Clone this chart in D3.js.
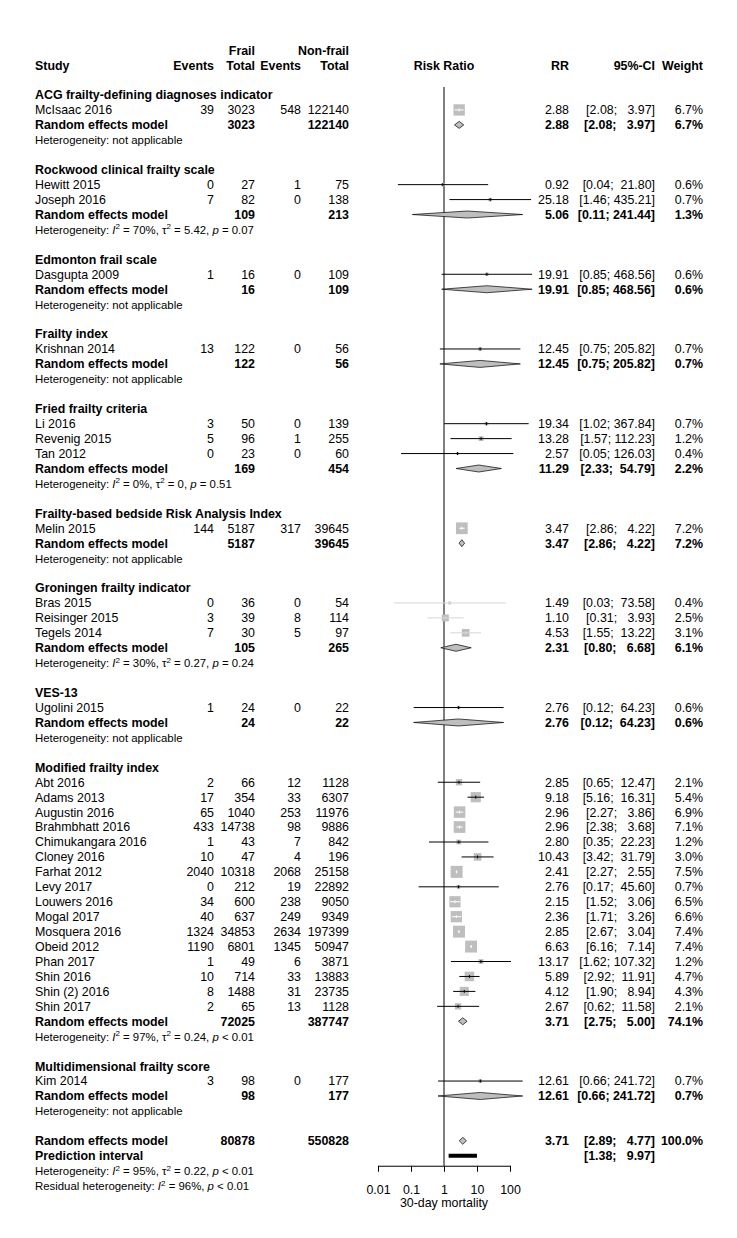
<!DOCTYPE html>
<html>
<head>
<meta charset="utf-8">
<script src="https://cdn.jsdelivr.net/npm/d3@7"></script>
<style>
  body { margin: 0; background: #fff; }
  text { font-family: "Liberation Sans", Arial, sans-serif; font-size: 12.4px; fill: #000; white-space: pre; }
  .b { font-weight: bold; }
  .het { font-size: 11.4px; }
</style>
</head>
<body>
<div id="chart"></div>
<script>
// subgroups (frailty instruments)
const groupNames = [
  "ACG frailty-defining diagnoses indicator",
  "Rockwood clinical frailty scale",
  "Edmonton frail scale",
  "Frailty index",
  "Fried frailty criteria",
  "Frailty-based bedside Risk Analysis Index",
  "Groningen frailty indicator",
  "VES-13",
  "Modified frailty index",
  "Multidimensional frailty score"
];
const groupTotFrail = [3023, 109, 16, 122, 169, 5187, 105, 24, 72025, 98];
const groupTotNon   = [122140, 213, 109, 56, 454, 39645, 265, 22, 387747, 177];
const groupRR     = [2.88, 5.06, 19.91, 12.45, 11.29, 3.47, 2.31, 2.76, 3.71, 12.61];
const groupLo     = [2.08, 0.11, 0.85, 0.75, 2.33, 2.86, 0.80, 0.12, 2.75, 0.66];
const groupHi     = [3.97, 241.44, 468.56, 205.82, 54.79, 4.22, 6.68, 64.23, 5.00, 241.72];
const groupWeight = [6.7, 1.3, 0.6, 0.7, 2.2, 7.2, 6.1, 0.6, 74.1, 0.7];
const groupI2   = [null, 70, null, null, 0, null, 30, null, 97, null];
const groupTau2 = [null, 5.42, null, null, 0, null, 0.27, null, 0.24, null];
const groupP    = [null, "= 0.07", null, null, "= 0.51", null, "= 0.24", null, "< 0.01", null];

// studies: group, study, events frail, total frail, events non-frail, total non-frail, RR, lower, upper, weight %
const studies = [
  [0, "McIsaac 2016", 39, 3023, 548, 122140, 2.88, 2.08, 3.97, 6.7],
  [1, "Hewitt 2015", 0, 27, 1, 75, 0.92, 0.04, 21.80, 0.6],
  [1, "Joseph 2016", 7, 82, 0, 138, 25.18, 1.46, 435.21, 0.7],
  [2, "Dasgupta 2009", 1, 16, 0, 109, 19.91, 0.85, 468.56, 0.6],
  [3, "Krishnan 2014", 13, 122, 0, 56, 12.45, 0.75, 205.82, 0.7],
  [4, "Li 2016", 3, 50, 0, 139, 19.34, 1.02, 367.84, 0.7],
  [4, "Revenig 2015", 5, 96, 1, 255, 13.28, 1.57, 112.23, 1.2],
  [4, "Tan 2012", 0, 23, 0, 60, 2.57, 0.05, 126.03, 0.4],
  [5, "Melin 2015", 144, 5187, 317, 39645, 3.47, 2.86, 4.22, 7.2],
  [6, "Bras 2015", 0, 36, 0, 54, 1.49, 0.03, 73.58, 0.4],
  [6, "Reisinger 2015", 3, 39, 8, 114, 1.10, 0.31, 3.93, 2.5],
  [6, "Tegels 2014", 7, 30, 5, 97, 4.53, 1.55, 13.22, 3.1],
  [7, "Ugolini 2015", 1, 24, 0, 22, 2.76, 0.12, 64.23, 0.6],
  [8, "Abt 2016", 2, 66, 12, 1128, 2.85, 0.65, 12.47, 2.1],
  [8, "Adams 2013", 17, 354, 33, 6307, 9.18, 5.16, 16.31, 5.4],
  [8, "Augustin 2016", 65, 1040, 253, 11976, 2.96, 2.27, 3.86, 6.9],
  [8, "Brahmbhatt 2016", 433, 14738, 98, 9886, 2.96, 2.38, 3.68, 7.1],
  [8, "Chimukangara 2016", 1, 43, 7, 842, 2.80, 0.35, 22.23, 1.2],
  [8, "Cloney 2016", 10, 47, 4, 196, 10.43, 3.42, 31.79, 3.0],
  [8, "Farhat 2012", 2040, 10318, 2068, 25158, 2.41, 2.27, 2.55, 7.5],
  [8, "Levy 2017", 0, 212, 19, 22892, 2.76, 0.17, 45.60, 0.7],
  [8, "Louwers 2016", 34, 600, 238, 9050, 2.15, 1.52, 3.06, 6.5],
  [8, "Mogal 2017", 40, 637, 249, 9349, 2.36, 1.71, 3.26, 6.6],
  [8, "Mosquera 2016", 1324, 34853, 2634, 197399, 2.85, 2.67, 3.04, 7.4],
  [8, "Obeid 2012", 1190, 6801, 1345, 50947, 6.63, 6.16, 7.14, 7.4],
  [8, "Phan 2017", 1, 49, 6, 3871, 13.17, 1.62, 107.32, 1.2],
  [8, "Shin 2016", 10, 714, 33, 13883, 5.89, 2.92, 11.91, 4.7],
  [8, "Shin (2) 2016", 8, 1488, 31, 23735, 4.12, 1.90, 8.94, 4.3],
  [8, "Shin 2017", 2, 65, 13, 1128, 2.67, 0.62, 11.58, 2.1],
  [9, "Kim 2014", 3, 98, 0, 177, 12.61, 0.66, 241.72, 0.7]
];

// overall pooled result
const overallTotals = [80878, 550828];
const overallCI = [3.71, 2.89, 4.77, 100.0];
const predictionCI = [1.38, 9.97];
const overallHet = [95, 0.22, "< 0.01"];
const residualHet = [96, "< 0.01"];

const axisTicks = [0.01, 0.1, 1, 10, 100];

const width = 737, height = 1238;
const y0 = 95, rowH = 14.94;
const rowY = i => y0 + i * rowH;
const base = 4.4;

const svg = d3.select('#chart').append('svg')
  .attr('width', width).attr('height', height);
svg.append('rect').attr('width', width).attr('height', height).attr('fill', '#fff');

const x = d3.scaleLog().domain([0.01, 100]).range([378, 510]);
const boxSize = d3.scaleSqrt().domain([0, 7.5]).range([0, 12]);

const f2 = d3.format('.2f');
const f1 = d3.format('.1f');
const ci = (lo, hi) => '[' + f2(lo).padStart(4) + '; ' + f2(hi).padStart(6) + ']';

// column x positions (right edges)
const colEv1 = 214, colN1 = 255, colEv2 = 301, colN2 = 349;
const colRR = 569, colCI = 655, colW = 703;

function txt(xp, y, s, cls, anchor) {
  return svg.append('text')
    .attr('x', xp).attr('y', y + base)
    .attr('class', cls || null)
    .attr('text-anchor', anchor || 'start')
    .text(s);
}

// heterogeneity line with italic / superscript parts
function het(y, parts) {
  const t = svg.append('text').attr('x', 35).attr('y', y + base).attr('class', 'het');
  let up = false;
  parts.forEach(p => {
    const sp = t.append('tspan').text(p[0]);
    if (p[1] === 'i') sp.style('font-style', 'italic');
    if (p[1] === 's') { sp.attr('dy', -4.5).style('font-size', '8px'); up = true; }
    else if (up) { sp.attr('dy', 4.5); up = false; }
  });
}
function hetParts(label, i2, tau2, p) {
  const parts = [[label + ': '], ['I', 'i'], ['2', 's'], [' = ' + i2 + '%, ']];
  if (tau2 !== null) {
    parts.push(['\u03c4'], ['2', 's'], [' = ' + (tau2 === 0 ? '0' : f2(tau2)) + ', ']);
  }
  parts.push(['p', 'i'], [' ' + p]);
  return parts;
}

// header
txt(colN1, 50.2, 'Frail', 'b', 'end');
txt(colN2, 50.2, 'Non-frail', 'b', 'end');
txt(35, 65.1, 'Study', 'b');
txt(colEv1, 65.1, 'Events', 'b', 'end');
txt(colN1, 65.1, 'Total', 'b', 'end');
txt(colEv2, 65.1, 'Events', 'b', 'end');
txt(colN2, 65.1, 'Total', 'b', 'end');
txt(x(1), 65.1, 'Risk Ratio', 'b', 'middle');
txt(colRR, 65.1, 'RR', 'b', 'end');
txt(colCI, 65.1, '95%-CI', 'b', 'end');
txt(colW, 65.1, 'Weight', 'b', 'end');

const diamondH = 7;
function diamond(y, rr, lo, hi) {
  svg.append('polygon')
    .attr('points', [[x(lo), y], [x(rr), y - diamondH / 2], [x(hi), y], [x(rr), y + diamondH / 2]].join(' '))
    .attr('fill', '#bebebe').attr('stroke', '#000').attr('stroke-width', 0.7);
}

function studyMark(y, s, faint) {
  const cx = x(s[6]), side = boxSize(s[9]);
  svg.append('rect')
    .attr('x', cx - side / 2).attr('y', y - side / 2)
    .attr('width', side).attr('height', side)
    .attr('fill', '#bebebe');
  const inside = x(s[7]) >= cx - side / 2 && x(s[8]) <= cx + side / 2;
  const col = inside ? '#fff' : (faint ? '#d6d6d6' : '#000');
  svg.append('line')
    .attr('x1', x(s[7])).attr('x2', x(s[8]))
    .attr('y1', y).attr('y2', y)
    .attr('stroke', col).attr('stroke-width', 1);
  svg.append('line')
    .attr('x1', cx).attr('x2', cx)
    .attr('y1', y - 1.5).attr('y2', y + 1.5)
    .attr('stroke', col).attr('stroke-width', 1);
}

// reference line at RR = 1
const axisY = rowY(71) + 10;
svg.append('line')
  .attr('x1', x(1)).attr('x2', x(1))
  .attr('y1', 87).attr('y2', axisY)
  .attr('stroke', '#000').attr('stroke-width', 1);

let r = 0;
groupNames.forEach((g, gi) => {
  txt(35, rowY(r), g, 'b');
  r++;
  studies.filter(s => s[0] === gi).forEach(s => {
    const y = rowY(r);
    txt(35, y, s[1]);
    txt(colEv1, y, String(s[2]), null, 'end');
    txt(colN1, y, String(s[3]), null, 'end');
    txt(colEv2, y, String(s[4]), null, 'end');
    txt(colN2, y, String(s[5]), null, 'end');
    txt(colRR, y, f2(s[6]), null, 'end');
    txt(colCI, y, ci(s[7], s[8]), null, 'end');
    txt(colW, y, f1(s[9]) + '%', null, 'end');
    studyMark(y, s, g === 'Groningen frailty indicator');
    r++;
  });
  const y = rowY(r);
  txt(35, y, 'Random effects model', 'b');
  txt(colN1, y, String(groupTotFrail[gi]), 'b', 'end');
  txt(colN2, y, String(groupTotNon[gi]), 'b', 'end');
  txt(colRR, y, f2(groupRR[gi]), 'b', 'end');
  txt(colCI, y, ci(groupLo[gi], groupHi[gi]), 'b', 'end');
  txt(colW, y, f1(groupWeight[gi]) + '%', 'b', 'end');
  diamond(y, groupRR[gi], groupLo[gi], groupHi[gi]);
  r++;
  if (groupI2[gi] === null) {
    het(rowY(r), [['Heterogeneity: not applicable']]);
  } else {
    het(rowY(r), hetParts('Heterogeneity', groupI2[gi], groupTau2[gi], groupP[gi]));
  }
  r += 2;
});

// overall
let y = rowY(r);
txt(35, y, 'Random effects model', 'b');
txt(colN1, y, String(overallTotals[0]), 'b', 'end');
txt(colN2, y, String(overallTotals[1]), 'b', 'end');
txt(colRR, y, f2(overallCI[0]), 'b', 'end');
txt(colCI, y, ci(overallCI[1], overallCI[2]), 'b', 'end');
txt(colW, y, f1(overallCI[3]) + '%', 'b', 'end');
diamond(y, overallCI[0], overallCI[1], overallCI[2]);
r++;
y = rowY(r);
txt(35, y, 'Prediction interval', 'b');
txt(colCI, y, ci(predictionCI[0], predictionCI[1]), 'b', 'end');
svg.append('rect')
  .attr('x', x(predictionCI[0])).attr('y', y - 2)
  .attr('width', x(predictionCI[1]) - x(predictionCI[0])).attr('height', 4)
  .attr('fill', '#000');
r++;
het(rowY(r), hetParts('Heterogeneity', overallHet[0], overallHet[1], overallHet[2]));
r++;
het(rowY(r), hetParts('Residual heterogeneity', residualHet[0], null, residualHet[1]));

// x axis
const axis = svg.append('g')
  .attr('transform', 'translate(0,' + axisY + ')')
  .call(d3.axisBottom(x).tickValues(axisTicks).tickFormat(d => String(d))
    .tickSize(6).tickSizeOuter(0).tickPadding(13));
axis.selectAll('text').style('font-size', '12.4px').attr('fill', '#000')
  .style('font-family', '"Liberation Sans", Arial, sans-serif');
axis.selectAll('path, line').attr('stroke', '#000');
txt(x(1), 1203, '30-day mortality', null, 'middle');
</script>
</body>
</html>
